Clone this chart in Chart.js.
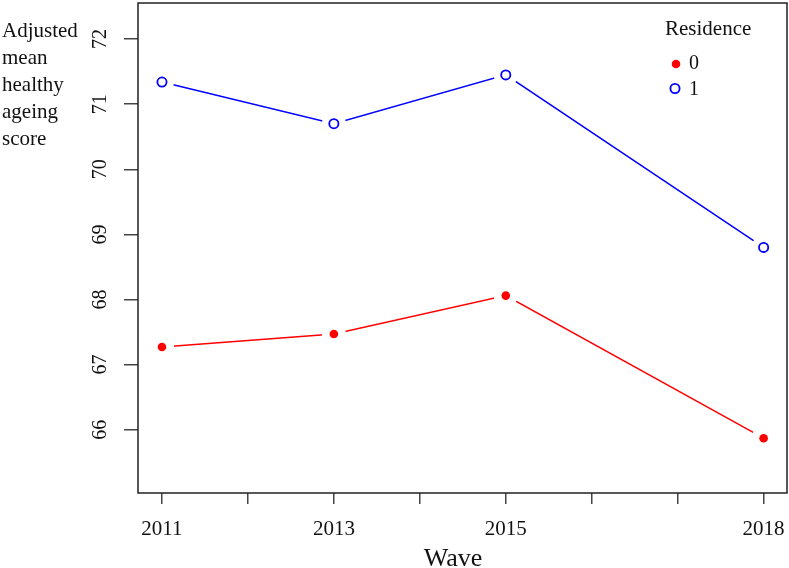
<!DOCTYPE html>
<html>
<head>
<meta charset="utf-8">
<script src="https://cdn.jsdelivr.net/npm/chart.js@4/dist/chart.umd.min.js"></script>
<style>
  html, body { margin: 0; padding: 0; background: #fff; }
  #wrap { width: 789px; height: 568px; }
</style>
</head>
<body>
<div id="wrap"><canvas id="chart" width="789" height="568"></canvas></div>
<script>
// values
const waves = [2011, 2013, 2015, 2018];
const residence0 = [67.27, 67.47, 68.06, 65.87];
const residence1 = [71.34, 70.70, 71.45, 68.80];
const xTickLabels = ["2011", "2013", "2015", "2018"];
const groupNames = ["0", "1"];
const legendTitle = "Residence";
const yTitleLines = ["Adjusted", "mean", "healthy", "ageing", "score"];
const xTitle = "Wave";

const SERIF = "'Liberation Serif', 'DejaVu Serif', serif";
const RED = "#ff0000";
const BLUE = "#0000ff";

const toPoints = (vals) => waves.map((w, i) => ({ x: w, y: vals[i] }));

// box, rotated y labels, titles and legend
const decorations = {
  id: "decorations",
  afterDraw(chart) {
    const ctx = chart.ctx;
    const a = chart.chartArea;
    const yScale = chart.scales.y;
    ctx.save();

    // R style box round the plot
    ctx.strokeStyle = "#222";
    ctx.lineWidth = 1.5;
    ctx.strokeRect(a.left, a.top, a.right - a.left, a.bottom - a.top);

    // y tick labels, turned like R does
    ctx.fillStyle = "#111";
    ctx.font = "20px " + SERIF;
    ctx.textAlign = "center";
    ctx.textBaseline = "alphabetic";
    yScale.ticks.forEach((t) => {
      const py = yScale.getPixelForValue(t.value);
      ctx.save();
      ctx.translate(106, py);
      ctx.rotate(-Math.PI / 2);
      ctx.fillText(String(t.value), 0, 0);
      ctx.restore();
    });

    // y title up in the corner
    ctx.font = "21px " + SERIF;
    ctx.textAlign = "left";
    yTitleLines.forEach((line, i) => {
      ctx.fillText(line, 2, 37 + i * 27);
    });

    // x title
    ctx.font = "26px " + SERIF;
    ctx.textAlign = "center";
    ctx.fillText(xTitle, 453, 566);

    // legend
    ctx.font = "21px " + SERIF;
    ctx.textAlign = "left";
    ctx.fillText(legendTitle, 665, 35);
    ctx.font = "20px " + SERIF;
    ctx.fillText(groupNames[0], 689, 69);
    ctx.fillText(groupNames[1], 689, 95);

    ctx.fillStyle = RED;
    ctx.beginPath();
    ctx.arc(676, 64, 4.3, 0, Math.PI * 2);
    ctx.fill();

    ctx.strokeStyle = BLUE;
    ctx.lineWidth = 1.8;
    ctx.beginPath();
    ctx.arc(675, 88.5, 4.6, 0, Math.PI * 2);
    ctx.stroke();

    ctx.restore();
  },
};

new Chart(document.getElementById("chart"), {
  type: "line",
  data: {
    datasets: [
      // lines
      { data: toPoints(residence0), borderColor: RED, borderWidth: 1.5, pointRadius: 0, order: 3 },
      { data: toPoints(residence1), borderColor: BLUE, borderWidth: 1.5, pointRadius: 0, order: 3 },
      // white gaps round the points (type = "b")
      { data: toPoints(residence0), showLine: false, pointRadius: 12, pointBackgroundColor: "#fff", pointBorderWidth: 0, order: 2 },
      { data: toPoints(residence1), showLine: false, pointRadius: 12, pointBackgroundColor: "#fff", pointBorderWidth: 0, order: 2 },
      // markers
      { data: toPoints(residence0), showLine: false, pointRadius: 4.3, pointBackgroundColor: RED, pointBorderWidth: 0, order: 1 },
      { data: toPoints(residence1), showLine: false, pointRadius: 4.6, pointBackgroundColor: "#fff", pointBorderColor: BLUE, pointBorderWidth: 1.8, order: 1 },
    ],
  },
  options: {
    responsive: false,
    animation: false,
    layout: { autoPadding: false, padding: { top: 3, right: 2, left: 0, bottom: 0 } },
    plugins: {
      legend: { display: false },
      tooltip: { enabled: false },
    },
    scales: {
      x: {
        type: "linear",
        min: 2010.721,
        max: 2018.272,
        afterFit: (s) => { s.height = 75; s.paddingLeft = 0; s.paddingRight = 0; },
        border: { display: false },
        grid: { drawOnChartArea: false, tickLength: 11, color: "#444", lineWidth: 1.5 },
        ticks: {
          stepSize: 1,
          includeBounds: false,
          autoSkip: false,
          maxRotation: 0,
          padding: 13,
          color: "#111",
          font: { family: SERIF, size: 21 },
          callback: (v) => (xTickLabels.includes(String(v)) ? String(v) : ""),
        },
      },
      y: {
        min: 65.028,
        max: 72.554,
        afterFit: (s) => { s.width = 138; s.paddingTop = 0; s.paddingBottom = 0; },
        border: { display: false },
        grid: { drawOnChartArea: false, tickLength: 14, color: "#444", lineWidth: 1.5 },
        ticks: {
          stepSize: 1,
          includeBounds: false,
          color: "rgba(0,0,0,0)",
          font: { family: SERIF, size: 20 },
        },
      },
    },
  },
  plugins: [decorations],
});
</script>
</body>
</html>
